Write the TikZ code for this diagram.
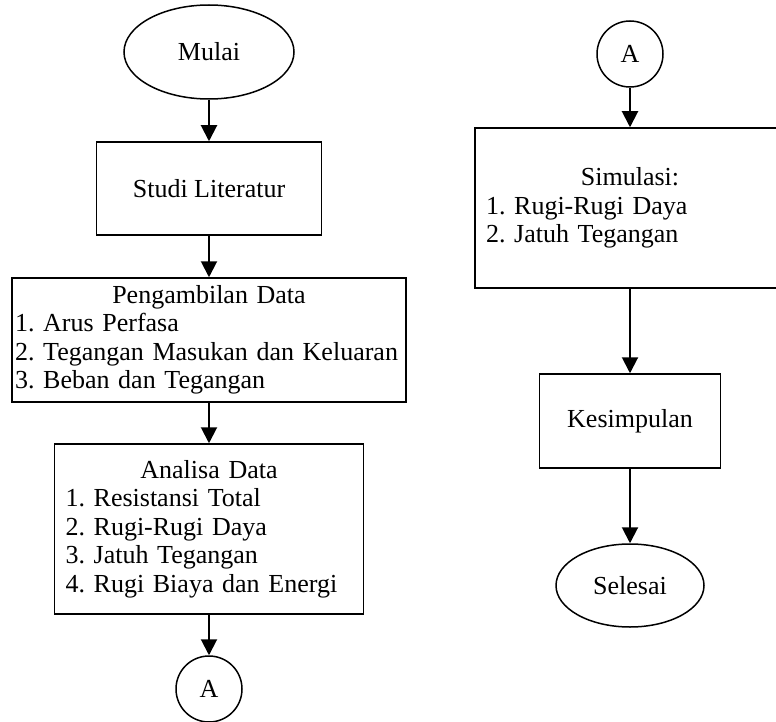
\documentclass[tikz,border=0pt]{standalone}
\usepackage{fontspec}
\setmainfont{Liberation Serif}
\usetikzlibrary{arrows.meta,shapes.geometric}

\begin{document}
\begin{tikzpicture}[x=1pt,y=1pt,font=\fontsize{26}{28.5}\selectfont\frenchspacing,>={Triangle[length=16pt,width=16pt]},
  proc/.style={draw,line width=1.5pt,inner xsep=11pt,inner ysep=0pt,align=left},
  term/.style={draw,ellipse,line width=1.5pt,inner sep=0pt},
  conn/.style={draw,circle,line width=1.5pt,inner sep=0pt,minimum size=66pt},
  flow/.style={->,line width=2pt}]
\useasboundingbox (0,0) rectangle (776,-722);
% kolom kiri
\node[term,minimum width=170pt,minimum height=94pt] (mulai) at (209,-52) {Mulai};
\node[proc,minimum width=225pt,minimum height=93pt] (studi) at (209,-188.5) {Studi Literatur};
\node[proc,inner xsep=3pt,text width=388pt,minimum height=124pt] (ambil) at (209,-340)
  {\makebox[\linewidth]{Pengambilan Data}\\1. Arus Perfasa\\2. Tegangan Masukan dan Keluaran\\3. Beban dan Tegangan};
\node[proc,text width=287pt,minimum height=170pt] (analisa) at (209,-529)
  {\makebox[\linewidth]{Analisa Data}\\1. Resistansi Total\\2. Rugi-Rugi Daya\\3. Jatuh Tegangan\\4. Rugi Biaya dan Energi};
\node[conn] (konA) at (209,-689) {A};
% kolom kanan
\node[conn] (konB) at (630,-54) {A};
\node[proc,text width=288pt,minimum height=160pt] (simulasi) at (630,-208)
  {\makebox[\linewidth]{Simulasi:}\\1. Rugi-Rugi Daya\\2. Jatuh Tegangan};
\node[proc,minimum width=181pt,minimum height=94pt] (simpulan) at (630,-421) {Kesimpulan};
\node[term,minimum width=148pt,minimum height=83pt] (selesai) at (630,-585.5) {Selesai};
\foreach \a/\b in {mulai/studi,studi/ambil,ambil/analisa,analisa/konA,konB/simulasi,simulasi/simpulan,simpulan/selesai}
  {\draw[flow] (\a) -- (\b);}
\end{tikzpicture}
\end{document}
